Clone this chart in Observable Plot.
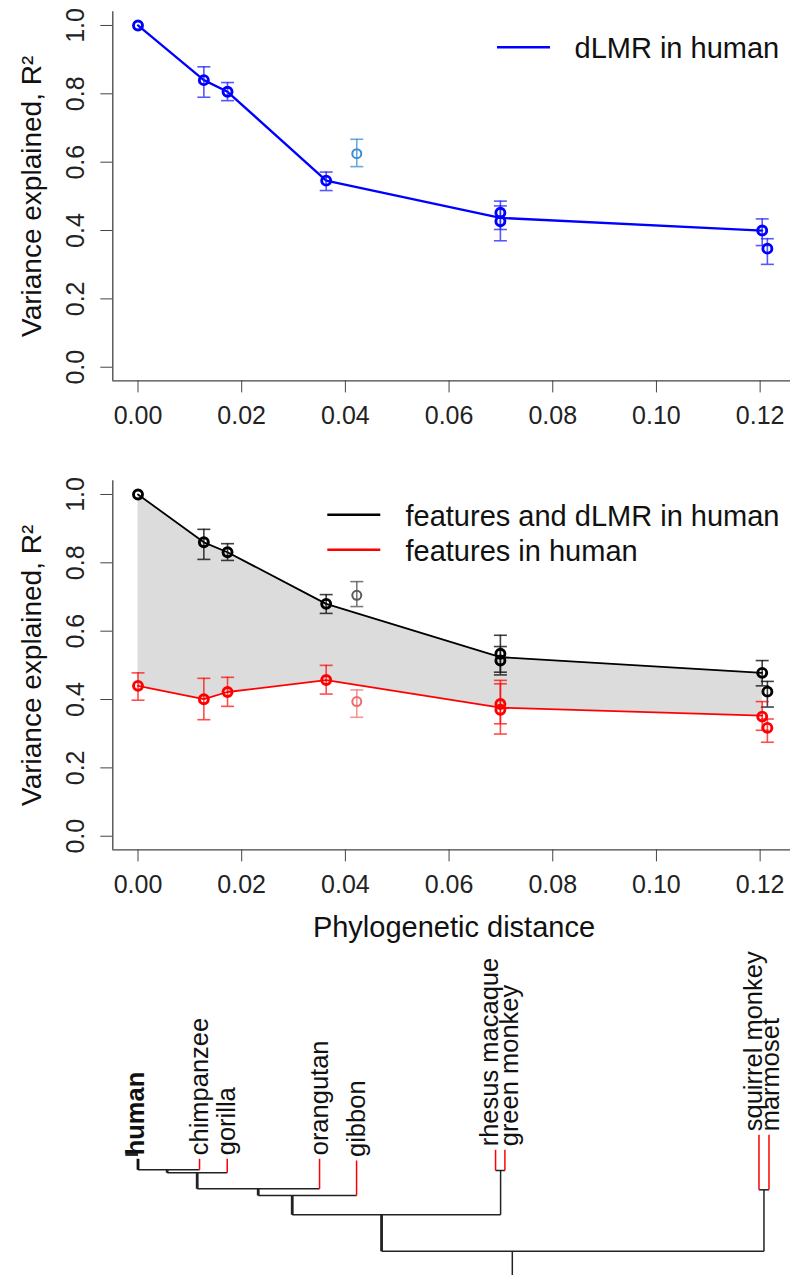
<!DOCTYPE html>
<html><head><meta charset="utf-8">
<script src="https://cdn.jsdelivr.net/npm/d3@7"></script>
<script src="https://cdn.jsdelivr.net/npm/@observablehq/plot@0.6"></script>
<style>
html,body{margin:0;padding:0;background:#fff;}
#chart{width:790px;height:1275px;overflow:hidden;}
#chart svg{display:block;}
</style></head><body><div id="chart"></div>
<script>
// ---------- data ----------
const species   = ["human","chimpanzee","gorilla","orangutan","gibbon","rhesus macaque","green monkey","squirrel monkey","marmoset"];
const distance  = [0, 0.0127, 0.01727, 0.0363, 0.0422, 0.0699, 0.0699, 0.1204, 0.1214];
const isOutlier = [false, false, false, false, true, false, false, false, false];

const dlmr   = [1.000, 0.840, 0.806, 0.546, 0.625, 0.452, 0.427, 0.400, 0.347];
const dlmrLo = [null,  0.790, 0.780, 0.517, 0.587, 0.403, 0.370, 0.356, 0.301];
const dlmrHi = [null,  0.879, 0.833, 0.571, 0.667, 0.486, 0.472, 0.434, 0.376];

const both   = [1.000, 0.860, 0.831, 0.680, 0.705, 0.534, 0.514, 0.478, 0.423];
const bothLo = [null,  0.810, 0.807, 0.652, 0.672, 0.480, 0.472, 0.440, 0.378];
const bothHi = [null,  0.898, 0.856, 0.707, 0.745, 0.588, 0.555, 0.514, 0.453];

const feat   = [0.440, 0.401, 0.422, 0.457, 0.394, 0.387, 0.370, 0.350, 0.317];
const featLo = [0.398, 0.341, 0.380, 0.416, 0.348, 0.329, 0.299, 0.310, 0.275];
const featHi = [0.478, 0.462, 0.465, 0.500, 0.428, 0.456, 0.446, 0.394, 0.343];

const trendX    = [0, 0.0127, 0.01727, 0.0363, 0.0699, 0.1204];
const dlmrTrend = [1.000, 0.840, 0.806, 0.546, 0.437, 0.400];
const bothTrend = [1.000, 0.860, 0.831, 0.680, 0.524, 0.478];
const featTrend = [0.440, 0.401, 0.422, 0.457, 0.376, 0.353];

const xTicks = [0, 0.02, 0.04, 0.06, 0.08, 0.10, 0.12];
const yTicks = [0, 0.2, 0.4, 0.6, 0.8, 1.0];

const yLabel = "Variance explained, R²";
const xLabel = "Phylogenetic distance";
const legendTop = ["dLMR in human"];
const legendMid = ["features and dLMR in human", "features in human"];

// tree: tips (distance of each tip, height of tip top) and branch segments
const tipX     = [0, 0.01187, 0.01721, 0.03502, 0.04216, 0.06897, 0.07077, 0.11978, 0.12171];
const tipTop   = [116.7, 116.7, 116.7, 116.7, 115, 125.7, 125.7, 140.7, 140.7];
const tipBase  = [105.7, 105.7, 102.7, 86.7, 80, 105, 105, 85.7, 85.7];
const tipKind  = ["ref", "tip", "tip", "tip", "tip", "tip", "tip", "tip", "tip"];
const segX1   = [0,       0.00563, 0.01142, 0.02319, 0.02975, 0.06897, 0.04698, 0.11978, 0.00563, 0.01142, 0.02319, 0.02975, 0.06994, 0.04698, 0.12074, 0.0722, -0.00245];
const segX2   = [0.01187, 0.01721, 0.03502, 0.04216, 0.06994, 0.07077, 0.12074, 0.12171, 0.00563, 0.01142, 0.02319, 0.02975, 0.06994, 0.04698, 0.12074, 0.0722, 0];
const segY1   = [105.7,   102.7,   86.7,    80,      60.7,    105,     24.3,    85.7,    105.7,   102.7,   86.7,    80,      105,     60.7,    85.7,    24.3,   121];
const segY2   = [105.7,   102.7,   86.7,    80,      60.7,    105,     24.3,    85.7,    102.7,   86.7,    80,      60.7,    60.7,    24.3,    24.3,    0,      121];
const segKind = ["h","h","h","h","h","h","h","h","stem","stem","stem","stem","v","stem","v","v","stem"];
const labelNudge = {"human": -2, "rhesus macaque": -6, "green monkey": 5, "squirrel monkey": -5, "marmoset": 2};

// ---------- helpers ----------
const W = 790;
const FONT = "'Liberation Sans', Arial, Helvetica, sans-serif";
const xDomain = [-0.004862, 0.126360];
const xRange = [112.3, 792.6];
const yDomain = [-0.04, 1.04];

const pts = species.map((s, i) => ({
  species: s, x: distance[i], out: isOutlier[i],
  dlmr: dlmr[i], dlmrLo: dlmrLo[i], dlmrHi: dlmrHi[i],
  both: both[i], bothLo: bothLo[i], bothHi: bothHi[i],
  feat: feat[i], featLo: featLo[i], featHi: featHi[i]
}));
const trend = trendX.map((x, i) => ({x, dlmr: dlmrTrend[i], both: bothTrend[i], feat: featTrend[i]}));

const hbar = {draw(ctx, size) { const r = Math.sqrt(size / Math.PI); ctx.moveTo(-r, 0); ctx.lineTo(r, 0); }};

function errorMarks(key, color, outColor, opacity) {
  const d = pts.filter(p => p[key + "Lo"] != null);
  const col = p => p.out ? outColor : color;
  return [
    Plot.ruleX(d, {x: "x", y1: key + "Lo", y2: key + "Hi", stroke: col, strokeWidth: 1.6, strokeOpacity: opacity}),
    Plot.dot(d, {x: "x", y: key + "Lo", symbol: hbar, r: 6.5, stroke: col, strokeWidth: 1.6, strokeOpacity: opacity, fill: "none"}),
    Plot.dot(d, {x: "x", y: key + "Hi", symbol: hbar, r: 6.5, stroke: col, strokeWidth: 1.6, strokeOpacity: opacity, fill: "none"})
  ];
}
function pointMarks(key, color, outColor) {
  return Plot.dot(pts, {x: "x", y: key, r: 4.5, stroke: p => p.out ? outColor : color,
    strokeWidth: p => p.out ? 2.0 : 2.9, fill: "none"});
}
function axes() {
  return [
    Plot.ruleX([xDomain[0]], {stroke: "#444", strokeWidth: 1.3}),
    Plot.ruleY([yDomain[0]], {stroke: "#444", strokeWidth: 1.3}),
    Plot.axisX({ticks: xTicks, tickFormat: d3.format(".2f"), tickSize: 12, tickPadding: 13.2, fontSize: 25, stroke: "#444", fill: "#222", label: null}),
    Plot.axisY({ticks: yTicks, tickSize: 12, tickFormat: () => "", stroke: "#444", label: null}),
    Plot.text(yTicks, {y: d => d, text: d => d.toFixed(1), frameAnchor: "left", dx: -29, rotate: -90,
      textAnchor: "middle", lineAnchor: "bottom", fontSize: 25, fill: "#222"}),
    Plot.text([yLabel], {text: d => d, frameAnchor: "left", dx: -72.3, rotate: -90,
      textAnchor: "middle", lineAnchor: "bottom", fontSize: 28, fill: "#111"})
  ];
}
function legendLine(color, dx, dy) {
  return Plot.dot([0], {frameAnchor: "top-left", dx, dy, symbol: hbar, r: 26.5, stroke: color, strokeWidth: 2.4, fill: "none"});
}
function legendText(t, dx, dy) {
  return Plot.text([t], {text: d => d, frameAnchor: "top-left", dx, dy, textAnchor: "start", lineAnchor: "bottom", fontSize: 29, fill: "#111"});
}

const common = (h, mt, mb) => ({
  width: W, height: h, marginLeft: 112.3, marginRight: 0, marginTop: mt, marginBottom: mb,
  x: {domain: xDomain, range: xRange},
  y: {domain: yDomain},
  style: {fontFamily: FONT, background: "#fff", overflow: "hidden"}
});

// ---------- top panel ----------
const H1 = 440;
const panelTop = Plot.plot({
  ...common(H1, 11.3, H1 - 380.4),
  marks: [
    ...axes(),
    Plot.line(trend, {x: "x", y: "dlmr", stroke: "#0000ff", strokeWidth: 2.3}),
    ...errorMarks("dlmr", "#2020ff", "#3a8ed6", 0.75),
    pointMarks("dlmr", "#0000ff", "#3a8ed6"),
    legendLine("#0000ff", 410.7, 35.4),
    legendText(legendTop[0], 461.7, 46.3)
  ]
});

// ---------- middle panel ----------
const H2 = 510;
const panelMid = Plot.plot({
  ...common(H2, 40.3, H2 - 409.4),
  marks: [
    Plot.areaY(trend, {x: "x", y1: "feat", y2: "both", fill: "#dcdcdc"}),
    ...axes(),
    Plot.line(trend, {x: "x", y: "both", stroke: "#000", strokeWidth: 1.8}),
    Plot.line(trend, {x: "x", y: "feat", stroke: "#ff0000", strokeWidth: 1.8}),
    ...errorMarks("both", "#111", "#5a5a5a", 0.8),
    ...errorMarks("feat", "#ff0000", "#f06a6a", 0.7),
    pointMarks("both", "#000", "#5a5a5a"),
    pointMarks("feat", "#ff0000", "#f06a6a"),
    Plot.text([xLabel], {text: d => d, frameAnchor: "bottom", dx: 2.3, dy: 87.3, textAnchor: "middle", lineAnchor: "bottom", fontSize: 29, fill: "#111"}),
    legendLine("#000", 241.0, 34),
    legendLine("#ff0000", 241.0, 69),
    legendText(legendMid[0], 292.7, 44.7),
    legendText(legendMid[1], 292.7, 79.7)
  ]
});

// ---------- tree ----------
const H3 = 325;
const tips = species.map((s, i) => ({species: s, x: tipX[i], top: tipTop[i], base: tipBase[i], kind: tipKind[i]}));
const segs = segX1.map((x1, i) => ({x1, x2: segX2[i], y1: segY1[i], y2: segY2[i], kind: segKind[i]}));
const panelTree = Plot.plot({
  width: W, height: H3, marginLeft: 112.3, marginRight: 0, marginTop: 0, marginBottom: 0,
  x: {domain: xDomain, range: xRange, axis: null},
  y: {domain: [0, H3], axis: null},
  style: {fontFamily: FONT, background: "#fff", overflow: "hidden"},
  marks: [
    Plot.link(segs, {x1: "x1", x2: "x2", y1: "y1", y2: "y2", stroke: "#222",
      strokeWidth: d => d.kind === "stem" ? 2.8 : 1.5}),
    Plot.link(tips, {x1: "x", x2: "x", y1: "base", y2: "top",
      stroke: d => d.kind === "ref" ? "#111" : "#ff0000", strokeWidth: d => d.kind === "ref" ? 2.8 : 1.5}),
    ...tips.map(t => Plot.text([t], {x: "x", y: "top", text: "species", rotate: -90, textAnchor: "start", lineAnchor: "middle",
      dy: -3.5, dx: labelNudge[t.species] || 0, fontSize: 25.5, fill: "#111",
      fontWeight: t.kind === "ref" ? "bold" : "normal"}))
  ]
});

document.getElementById("chart").append(panelTop, panelMid, panelTree);
</script>
</body></html>
